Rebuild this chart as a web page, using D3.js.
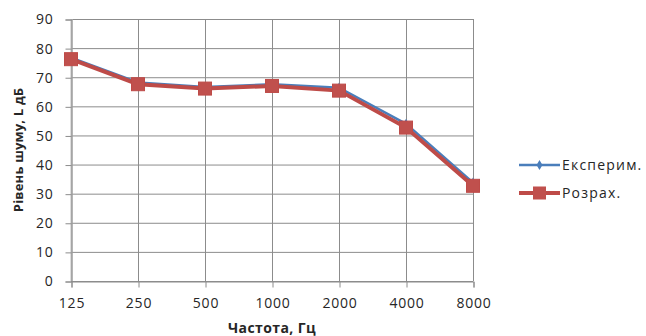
<!DOCTYPE html>
<html>
<head>
<meta charset="utf-8">
<script src="https://cdn.jsdelivr.net/npm/d3@7"></script>
<style>
  html, body { margin: 0; padding: 0; background: #fff; }
  svg text { font-family: "Open Sans", "Liberation Sans", sans-serif; fill: #262626; }
</style>
</head>
<body>
<svg id="chart" width="646" height="336"></svg>
<script>
// Frequency bands (Hz) and noise levels (dB)
const frequencies = ["125", "250", "500", "1000", "2000", "4000", "8000"];
const measured   = [76.7, 68.2, 66.6, 67.6, 66.4, 54.0, 33.8];
const calculated = [76.2, 67.6, 66.1, 67.0, 65.4, 52.7, 32.7];
const yTicks = [0, 10, 20, 30, 40, 50, 60, 70, 80, 90];
const seriesNames = ["Експерим.", "Розрах."];

const svg = d3.select("#chart");
const plot = { left: 71, right: 473, top: 19, bottom: 281 };
const FONT = "'Open Sans', 'Liberation Sans', sans-serif";

const x = d3.scalePoint().domain(frequencies).range([plot.left, plot.right]);
const y = d3.scaleLinear().domain([0, 90]).range([plot.bottom, plot.top]);

// Gridlines
const grid = svg.append("g");
grid.selectAll("line.h").data(yTicks).join("line")
  .attr("x1", plot.left).attr("x2", plot.right)
  .attr("y1", d => y(d) + 0.5).attr("y2", d => y(d) + 0.5)
  .attr("stroke", "#8c8c8c").attr("stroke-width", 1);
grid.selectAll("line.v").data(frequencies).join("line")
  .attr("x1", d => x(d) + 0.5).attr("x2", d => x(d) + 0.5)
  .attr("y1", plot.top).attr("y2", plot.bottom)
  .attr("stroke", (d, i) => i === 0 ? "#bdbdbd" : "#8c8c8c")
  .attr("stroke-width", (d, i) => i === 0 ? 2 : 1);

// Axes
const yAxis = svg.append("g")
  .attr("transform", `translate(${plot.left + 0.5},0.5)`)
  .call(d3.axisLeft(y).tickValues(yTicks).tickSize(6).tickPadding(12));
const xAxis = svg.append("g")
  .attr("transform", `translate(0.5,${plot.bottom + 0.5})`)
  .call(d3.axisBottom(x).tickSize(6).tickPadding(9));
[yAxis, xAxis].forEach(a => {
  a.select(".domain").attr("stroke", "#8c8c8c");
  a.selectAll(".tick line").attr("stroke", "#8c8c8c");
  a.selectAll("text").attr("font-size", 14).attr("fill", "#262626")
    .style("font-family", FONT).style("letter-spacing", "0.8px");
});
xAxis.selectAll("text").attr("dy", "0.85em");

// Series lines and markers
const line = d3.line().x((d, i) => x(frequencies[i])).y(d => y(d));

svg.append("path").datum(measured)
  .attr("d", line).attr("fill", "none")
  .attr("stroke", "#4a7ebb").attr("stroke-width", 2.5);
svg.append("g").selectAll("path").data(measured).join("path")
  .attr("d", d3.symbol(d3.symbolDiamond, 30))
  .attr("transform", (d, i) => `translate(${x(frequencies[i])},${y(d)})`)
  .attr("fill", "#4a7ebb");

svg.append("path").datum(calculated)
  .attr("d", line).attr("fill", "none")
  .attr("stroke", "#be4b48").attr("stroke-width", 4);
svg.append("g").selectAll("rect").data(calculated).join("rect")
  .attr("x", (d, i) => x(frequencies[i]) - 6.5)
  .attr("y", d => y(d) - 6.5)
  .attr("width", 13).attr("height", 13)
  .attr("fill", "#c0504d").attr("stroke", "#be4b48");

// Legend
const legend = svg.append("g");
const legendY = [165, 193];
legend.append("line").attr("x1", 519).attr("x2", 560)
  .attr("y1", legendY[0]).attr("y2", legendY[0])
  .attr("stroke", "#4a7ebb").attr("stroke-width", 2.5);
legend.append("path").attr("d", d3.symbol(d3.symbolDiamond, 30))
  .attr("transform", `translate(539.5,${legendY[0]})`).attr("fill", "#4a7ebb");
legend.append("line").attr("x1", 519).attr("x2", 560)
  .attr("y1", legendY[1]).attr("y2", legendY[1])
  .attr("stroke", "#be4b48").attr("stroke-width", 4);
legend.append("rect").attr("x", 533).attr("y", legendY[1] - 6.5)
  .attr("width", 13).attr("height", 13).attr("fill", "#c0504d");
legend.selectAll("text").data(seriesNames).join("text")
  .attr("x", 562).attr("y", (d, i) => legendY[i])
  .attr("dy", "0.35em").attr("font-size", 14)
  .style("letter-spacing", "1.2px").text(d => d);

// Axis titles
svg.append("text")
  .attr("x", 272).attr("y", 333)
  .attr("text-anchor", "middle").attr("font-size", 14).attr("font-weight", "bold")
  .style("letter-spacing", "0.4px")
  .text("Частота, Гц");
svg.append("text")
  .attr("transform", "translate(23,150) rotate(-90)")
  .attr("text-anchor", "middle").attr("font-size", 13).attr("font-weight", "bold")
  .style("letter-spacing", "0.2px")
  .text("Рівень шуму, L дБ");
</script>
</body>
</html>
